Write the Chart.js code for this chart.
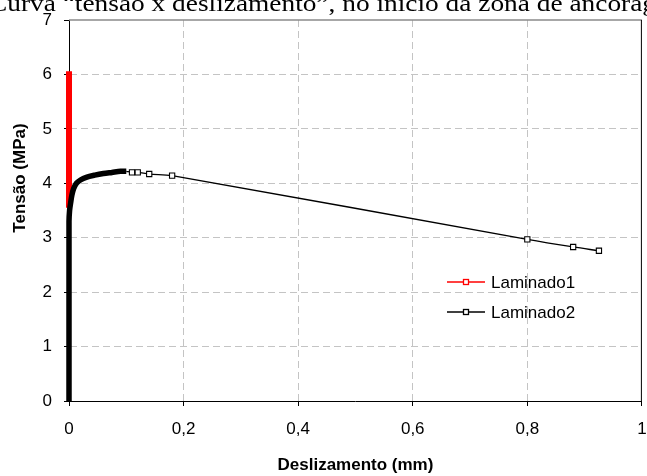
<!DOCTYPE html>
<html>
<head>
<meta charset="utf-8">
<script src="https://cdn.jsdelivr.net/npm/chart.js@4.4.0/dist/chart.umd.min.js"></script>
<style>
  html, body { margin: 0; padding: 0; background: #fff; overflow: hidden; }
  #wrap { width: 647px; height: 476px; }
</style>
</head>
<body>
<div id="wrap"><canvas id="linechart" width="647" height="476"></canvas></div>
<script>
var chartTitle = 'Curva \u201ctens\u00e3o x deslizamento\u201d, no in\u00edcio da zona de ancoragem';
var xTitle = 'Deslizamento (mm)';
var yTitle = 'Tens\u00e3o (MPa)';
var xTickLabels = ['0', '0,2', '0,4', '0,6', '0,8', '1'];
var yTickLabels = ['0', '1', '2', '3', '4', '5', '6', '7'];

// Laminado1 - red, sits on the y axis
var lam1Label = 'Laminado1';
var lam1X = [0, 0, 0, 0, 0, 0, 0, 0, 0, 0];
var lam1Y = [3.55, 3.8, 4.1, 4.4, 4.7, 5.0, 5.3, 5.6, 5.85, 6.06];

// Laminado2 - black (first part is densely sampled, drawn as a thick band)
var lam2Label = 'Laminado2';
var lam2X = [0, 0, 0, 0, 0, 0, 0, 0, 0.001, 0.003, 0.005, 0.008, 0.013, 0.02, 0.03, 0.045, 0.06, 0.075, 0.09, 0.1,
             0.11, 0.12, 0.14, 0.18, 0.8, 0.88, 0.925];
var lam2Y = [0, 0.5, 1, 1.5, 2, 2.5, 3, 3.3, 3.5, 3.65, 3.78, 3.9, 4.0, 4.06, 4.11, 4.15, 4.18, 4.2, 4.22, 4.22,
             4.2, 4.2, 4.17, 4.14, 2.97, 2.83, 2.76];
var lam2DenseCount = 20;

function toPoints(xs, ys) {
  var pts = [];
  xs.forEach(function(x, i) { pts.push({x: x, y: ys[i]}); });
  return pts;
}

var lam2Points = toPoints(lam2X, lam2Y);
var lam2Dense = lam2Points.slice(0, lam2DenseCount);
var lam2Tail = lam2Points.slice(lam2DenseCount - 1);

var textPlugin = {
  id: 'textPlugin',
  afterDraw: function(chart) {
    var ctx = chart.ctx, area = chart.chartArea;
    ctx.save();
    // frame: grey top, black right
    ctx.strokeStyle = '#8a8a8a';
    ctx.lineWidth = 1.5;
    ctx.beginPath();
    ctx.moveTo(area.left, area.top);
    ctx.lineTo(area.right, area.top);
    ctx.stroke();
    ctx.strokeStyle = '#000';
    ctx.lineWidth = 1;
    ctx.beginPath();
    ctx.moveTo(area.right - 0.5, area.top);
    ctx.lineTo(area.right - 0.5, area.bottom);
    ctx.stroke();

    // clipped chart title
    ctx.fillStyle = '#000';
    ctx.font = '24px "Liberation Serif"';
    ctx.textBaseline = 'alphabetic';
    ctx.textAlign = 'left';
    ctx.save();
    ctx.translate(-11, 11);
    ctx.scale(1.14, 1);
    ctx.fillText(chartTitle, 0, 0);
    ctx.restore();

    // y title
    ctx.save();
    ctx.font = 'bold 17px "Liberation Sans"';
    ctx.translate(20.5, 178);
    ctx.rotate(-Math.PI / 2);
    ctx.textAlign = 'center';
    ctx.textBaseline = 'middle';
    ctx.fillText(yTitle, 0, 0);
    ctx.restore();

    // legend
    ctx.font = '17px "Liberation Sans"';
    ctx.textBaseline = 'middle';
    chart.data.datasets.forEach(function(ds) {
      if (ds.legendIndex === undefined) return;
      var y = 282 + ds.legendIndex * 30;
      ctx.strokeStyle = ds.legendColor;
      ctx.lineWidth = 1.3;
      ctx.beginPath();
      ctx.moveTo(447, y);
      ctx.lineTo(485, y);
      ctx.stroke();
      ctx.fillStyle = '#fff';
      ctx.fillRect(463.5, y - 2.5, 5, 5);
      ctx.strokeRect(463.5, y - 2.5, 5, 5);
      ctx.fillStyle = '#000';
      ctx.fillText(ds.label, 491, y + 1);
    });
    ctx.restore();
  }
};

var ctx = document.getElementById('linechart').getContext('2d');
var myLineChart = new Chart(ctx, {
  type: 'line',
  data: {
    datasets: [
      {
        label: lam1Label,
        legendIndex: 0,
        legendColor: '#ff0000',
        data: toPoints(lam1X, lam1Y),
        borderColor: '#ff0000',
        borderWidth: 6,
        pointRadius: 0,
        tension: 0,
        clip: false,
        order: 3
      },
      {
        label: lam2Label,
        legendIndex: 1,
        legendColor: '#000000',
        data: lam2Tail,
        borderColor: '#000',
        borderWidth: 1.3,
        tension: 0.35,
        pointStyle: 'rect',
        pointRadius: function(c) { return c.dataIndex === 0 ? 0 : 3.7; },
        pointBorderWidth: 1.1,
        pointBorderColor: '#000',
        pointBackgroundColor: '#fff',
        clip: false,
        order: 2
      },
      {
        label: lam2Label,
        data: lam2Dense,
        borderColor: '#000',
        borderWidth: 5.5,
        borderJoinStyle: 'round',
        borderCapStyle: 'butt',
        tension: 0.3,
        pointRadius: 0,
        clip: false,
        order: 1
      }
    ]
  },
  options: {
    responsive: false,
    animation: false,
    devicePixelRatio: 1,
    layout: { padding: { top: 20, right: 1, left: 0, bottom: 0 } },
    plugins: {
      legend: { display: false },
      tooltip: { enabled: false },
      title: { display: false }
    },
    scales: {
      x: {
        type: 'linear',
        min: 0,
        max: 1,
        afterFit: function(s) { s.height = 75; s.paddingLeft = 0; s.paddingRight = 0; },
        ticks: {
          stepSize: 0.2,
          autoSkip: false,
          maxRotation: 0,
          padding: 13,
          color: '#000',
          font: { family: 'Liberation Sans', size: 17 },
          callback: function(v, i) { return xTickLabels[i]; }
        },
        grid: {
          color: function(c) {
            return c.tick && (c.tick.value === 0 || c.tick.value === 1) ? 'rgba(0,0,0,0)' : '#c4c4c4';
          },
          tickColor: '#000',
          tickLength: 5,
          tickBorderDash: []
        },
        border: { display: true, color: '#000', width: 1, dash: [7, 4] },
        title: {
          display: true,
          text: xTitle,
          color: '#000',
          font: { family: 'Liberation Sans', size: 17, weight: 'bold' },
          padding: { top: 0, bottom: 0 }
        }
      },
      y: {
        min: 0,
        max: 7,
        afterFit: function(s) { s.width = 69; s.paddingTop = 0; s.paddingBottom = 0; },
        ticks: {
          stepSize: 1,
          padding: 12,
          color: '#000',
          font: { family: 'Liberation Sans', size: 17 },
          callback: function(v, i) { return yTickLabels[i]; }
        },
        grid: {
          color: function(c) {
            return c.tick && (c.tick.value === 0 || c.tick.value === 7) ? 'rgba(0,0,0,0)' : '#c4c4c4';
          },
          tickColor: '#000',
          tickLength: 5,
          tickBorderDash: []
        },
        border: { display: true, color: '#000', width: 1, dash: [7, 4] }
      }
    }
  },
  plugins: [textPlugin]
});
</script>
</body>
</html>
